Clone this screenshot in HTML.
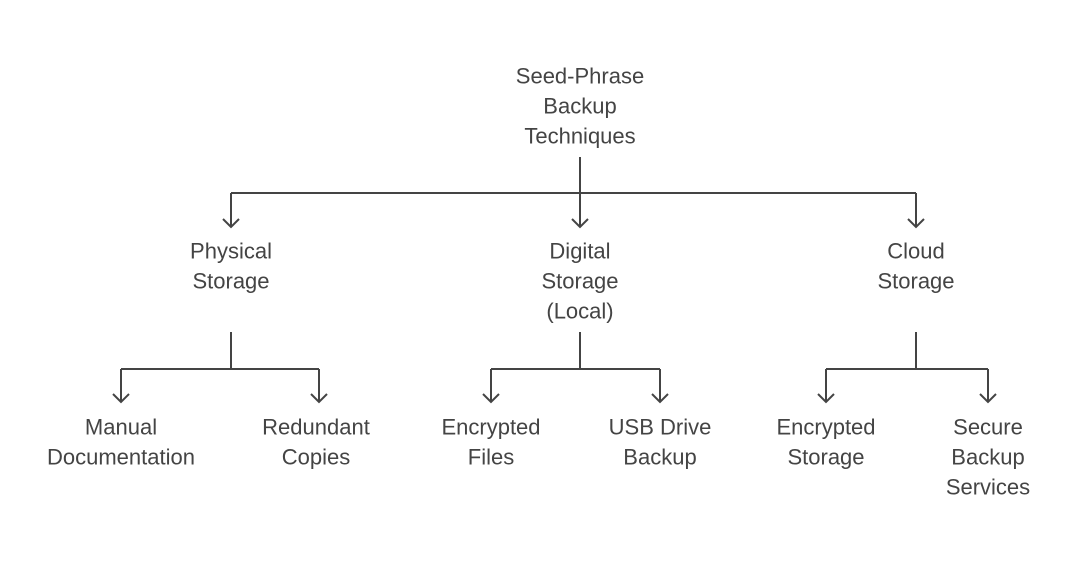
<!DOCTYPE html>
<html><head><meta charset="utf-8"><style>
html,body{margin:0;padding:0;background:#fff;}
svg{display:block;}
text{font-family:"Liberation Sans",sans-serif;font-size:22px;fill:#444;text-anchor:middle;dominant-baseline:central;}
</style></head><body>
<svg width="1073" height="563" viewBox="0 0 1073 563" xmlns="http://www.w3.org/2000/svg">
<g stroke="#444" stroke-width="2" fill="none">
<path d="M580 157V227M231 193H916M231 193V227M916 193V227"/>
<path d="M223 219L231 227L239 219M572 219L580 227L588 219M908 219L916 227L924 219"/>
<path d="M231 332V369M121 369H319M121 369V402M319 369V402"/>
<path d="M113 394L121 402L129 394M311 394L319 402L327 394"/>
<path d="M580 332V369M491 369H660M491 369V402M660 369V402"/>
<path d="M483 394L491 402L499 394M652 394L660 402L668 394"/>
<path d="M916 332V369M826 369H988M826 369V402M988 369V402"/>
<path d="M818 394L826 402L834 394M980 394L988 402L996 394"/>
</g>
<text x="580" y="76">Seed-Phrase</text><text x="580" y="106">Backup</text><text x="580" y="136">Techniques</text>
<text x="231" y="251">Physical</text><text x="231" y="281">Storage</text>
<text x="580" y="251">Digital</text><text x="580" y="281">Storage</text><text x="580" y="311">(Local)</text>
<text x="916" y="251">Cloud</text><text x="916" y="281">Storage</text>
<text x="121" y="427">Manual</text><text x="121" y="457">Documentation</text>
<text x="316" y="427">Redundant</text><text x="316" y="457">Copies</text>
<text x="491" y="427">Encrypted</text><text x="491" y="457">Files</text>
<text x="660" y="427">USB Drive</text><text x="660" y="457">Backup</text>
<text x="826" y="427">Encrypted</text><text x="826" y="457">Storage</text>
<text x="988" y="427">Secure</text><text x="988" y="457">Backup</text><text x="988" y="487">Services</text>
</g>
</svg>
</body></html>
